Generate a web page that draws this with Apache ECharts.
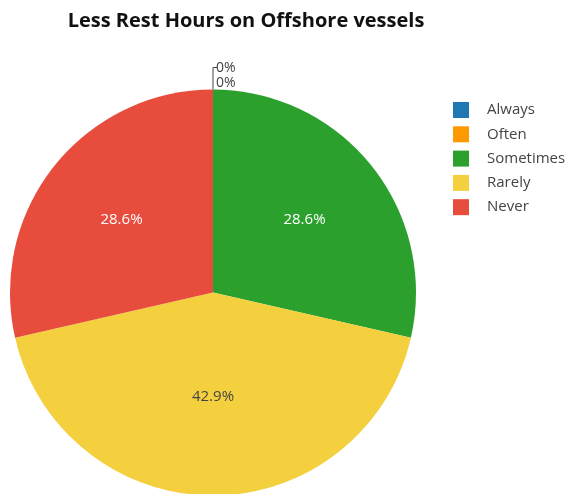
<!DOCTYPE html>
<html>
<head>
<meta charset="utf-8">
<script src="https://cdn.jsdelivr.net/npm/echarts@6/dist/echarts.min.js"></script>
<style>
  html, body { margin: 0; padding: 0; background: #fff; }
  #chart { width: 566px; height: 494px; }
</style>
</head>
<body>
<div id="chart"></div>
<script>
// Answer categories and how many responses fell in each
const categories = ['Always', 'Often', 'Sometimes', 'Rarely', 'Never'];
const counts = [0, 0, 2, 3, 2];
const colors = ['#1f77b4', '#ff9900', '#2ca02c', '#f4d03f', '#e74c3c'];
const labelColors = ['#444', '#444', '#fff', '#444', '#fff'];

const total = counts.reduce((a, b) => a + b, 0);
const CX = 213, CY = 292.5, R = 203;

const chart = echarts.init(document.getElementById('chart'), null, { renderer: 'canvas' });

const data = categories.map((name, i) => ({
  name,
  value: counts[i],
  itemStyle: { color: colors[i] },
  label: counts[i] === 0
    ? { position: 'outside', color: '#444', fontSize: 14 }
    : { position: 'inside', color: labelColors[i] },
  labelLine: { show: counts[i] === 0 }
}));

chart.setOption({
  animation: false,
  title: {
    text: 'Less Rest Hours on Offshore vessels',
    left: 241,
    top: 6,
    textAlign: 'center',
    textStyle: { fontFamily: 'Open Sans', fontWeight: 'bold', fontSize: 20, color: '#111' }
  },
  legend: {
    orient: 'vertical',
    left: 448,
    top: 97,
    icon: 'rect',
    itemWidth: 16,
    itemHeight: 16,
    itemGap: 8.3,
    data: categories,
    textStyle: { fontFamily: 'Open Sans', fontSize: 15, color: '#444', padding: [0, 0, 0, 13] }
  },
  series: [{
    type: 'pie',
    center: [CX, CY],
    radius: R,
    startAngle: 90,
    clockwise: true,
    avoidLabelOverlap: false,
    minShowLabelAngle: 0,
    stillShowZeroSum: true,
    itemStyle: { borderWidth: 0 },
    label: {
      fontFamily: 'Open Sans',
      fontSize: 15,
      formatter: p => p.value === 0 ? '0%' : (p.value / total * 100).toFixed(1) + '%'
    },
    labelLine: { lineStyle: { color: '#444', width: 1 }, length: 10, length2: 4 },
    emphasis: { disabled: true },
    labelLayout: params => {
      const i = params.dataIndex;
      if (counts[i] === 0) {
        // zero-size slices stack their labels above the top of the pie
        const zeroIdx = counts.slice(0, i + 1).filter(v => v === 0).length - 1;
        const y = CY - R - 21 + zeroIdx * 15;
        return {
          x: CX + 3, y: y, align: 'left', verticalAlign: 'middle',
          labelLinePoints: zeroIdx === 0
            ? [[CX, CY - R], [CX, y - 1], [CX + 4, y - 1]]
            : [[CX, CY - R], [CX, CY - R], [CX, CY - R]]
        };
      }
      // push inside labels a bit further out toward the slice centroid
      const lr = params.labelRect;
      const lx = lr.x + lr.width / 2, ly = lr.y + lr.height / 2;
      const f = counts[i] / total < 0.35 ? 1.12 : 1.0;
      return { x: CX + (lx - CX) * f, y: CY + (ly - CY) * f, align: 'center', verticalAlign: 'middle' };
    },
    data: data
  }]
});
</script>
</body>
</html>
